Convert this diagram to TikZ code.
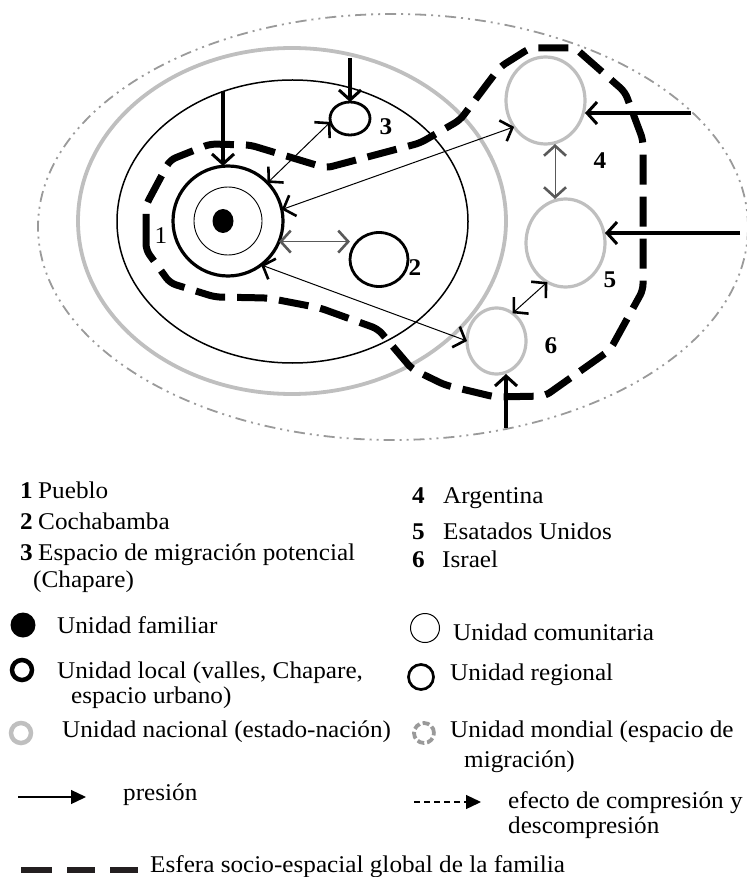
\documentclass[tikz,border=0pt]{standalone}
\usepackage{fontspec}
\setmainfont{Liberation Serif}[FakeStretch=1.05]
\usetikzlibrary{arrows.meta,shapes.geometric}
\definecolor{natgray}{HTML}{BFBFBF}
\definecolor{wgray}{HTML}{9A9A9A}
\definecolor{dk}{HTML}{231F20}
\begin{document}
\begin{tikzpicture}[x=1pt,y=-1pt,
  el/.style={ellipse, draw, inner sep=0pt, outer sep=0pt},
  circ/.style={circle, draw, inner sep=0pt, outer sep=0pt},
  lab/.style={inner sep=0pt, font=\fontsize{24}{26}\selectfont\bfseries},
  txt/.style={anchor=base west, inner sep=0pt, font=\fontsize{24}{28}\selectfont},
  num/.style={anchor=base west, inner sep=0pt, font=\fontsize{24}{28}\selectfont\bfseries},
  press/.style={line width=3.2pt, -{Straight Barb[length=10pt,width=22pt,line width=3pt]}},
  comp/.style={line width=1pt, {Straight Barb[length=10pt,width=22pt,line width=2.6pt]}-{Straight Barb[length=10pt,width=22pt,line width=2.6pt]}},
  sphere/.style={line width=7pt, dash pattern=on 30pt off 12pt, rounded corners=6pt}
]
\useasboundingbox (0,0) rectangle (746,877);

% spaces
\node[el, draw=wgray, line width=1.8pt, dash pattern=on 11pt off 5pt on 2pt off 5pt on 2pt off 5pt,
      minimum width=710pt, minimum height=426pt] (world) at (393,227) {};
\node[el, draw=natgray, line width=3.8pt, minimum width=428pt, minimum height=346pt] (nat) at (292,221) {};
\node[el, line width=1.5pt, minimum width=351pt, minimum height=283pt] (reg) at (292.5,221.5) {};

% family sphere
\draw[sphere] (146,250) -- (146,205) -- (170,160) -- (210,144) -- (250,145) -- (326,168)
  -- (420,143) -- (460,120) -- (500,67) -- (530,48) -- (575,48) -- (625,92) -- (643,140)
  -- (643,290) -- (610,350) -- (545,396) -- (495,397) -- (445,385) -- (412,369) -- (378,329)
  -- (320,308) -- (268,298) -- (215,297) -- (170,283) -- cycle;

% units
\node[circ, line width=3.2pt, minimum size=110pt] (n1) at (228,221) {};
\node[circ, line width=0.9pt, minimum size=68pt] (n1in) at (228,221) {};
\node[ellipse, fill, inner sep=0pt, minimum width=21pt, minimum height=24pt] (fam) at (223,221) {};
\node[el, line width=2.8pt, minimum width=58pt, minimum height=54pt] (n2) at (379,259.5) {};
\node[el, line width=2.8pt, minimum width=40pt, minimum height=33pt] (n3) at (350,118.5) {};
\node[el, draw=natgray, line width=3.2pt, minimum width=79pt, minimum height=87pt] (n4) at (545.5,100.5) {};
\node[el, draw=natgray, line width=3.2pt, minimum width=79pt, minimum height=88pt] (n5) at (565.5,243) {};
\node[el, draw=natgray, line width=3.2pt, minimum width=59pt, minimum height=66pt] (n6) at (496.5,341) {};

% labels
\node[inner sep=0pt, font=\fontsize{24}{26}\selectfont] (l1) at (161,236) {1};
\node[lab] (l2) at (415,268) {2};
\node[lab] (l3) at (386,127) {3};
\node[lab] (l4) at (600,161) {4};
\node[lab] (l5) at (610,280) {5};
\node[lab] (l6) at (551,346) {6};

% pressure arrows
\coordinate (s1) at (223,91);
\coordinate (s3) at (350,58);
\coordinate (s4) at (691,113);
\coordinate (s5) at (740,233);
\coordinate (s6) at (506,428);
\draw[press] (s1) -- (s1 |- n1.north);
\draw[press] (s3) -- (n3.north);
\draw[press] (s4) -- (s4 -| n4.east);
\draw[press] (s5) -- (s5 -| n5.east);
\draw[press] (s6) -- (s6 |- n6.south);

% compression arrows
\draw[comp] (n3.190) -- (n1.44);
\draw[comp, draw=black!65] (n1.-22) -- (n1.-22 -| n2.west);
\draw[comp] (n1.12) -- (n4.220);
\draw[comp] (n1.-53) -- (n6.west);
\draw[comp, draw=black!65] ([xshift=9.5pt]n4.south) -- ([xshift=-10.5pt]n5.north);
\draw[comp] (n5.245) -- (n6.60);

% legend
\node[num] (k1) at (20,498) {1};  \node[txt] (k1t) at (38,498) {Pueblo};
\node[num] (k2) at (20,529) {2};  \node[txt] (k2t) at (38,529) {Cochabamba};
\node[num] (k3) at (20,560) {3};  \node[txt] (k3t) at (38,560) {Espacio de migración potencial};
\node[txt] (k3b) at (33,587) {(Chapare)};
\node[num] (k4) at (412,503) {4}; \node[txt] (k4t) at (443,503) {Argentina};
\node[num] (k5) at (412,539) {5}; \node[txt] (k5t) at (443,539) {Esatados Unidos};
\node[num] (k6) at (412,567) {6}; \node[txt] (k6t) at (442,567) {Israel};

\node[circle, fill, inner sep=0pt, minimum size=25pt] (sy1) at (23,625) {};
\node[txt] (t1) at (57,633) {Unidad familiar};
\node[circ, line width=4.5pt, minimum size=20pt] (sy2) at (22,670) {};
\node[txt] (t2) at (57,678) {Unidad local (valles, Chapare,};
\node[txt] (t2b) at (71,703) {espacio urbano)};
\node[circ, draw=natgray, line width=4.5pt, minimum size=20pt] (sy3) at (21,733) {};
\node[txt] (t3) at (62,737) {Unidad nacional (estado-nación)};

\node[circ, line width=1pt, minimum size=29pt] (sy4) at (425,628) {};
\node[txt] (t4) at (453,640) {Unidad comunitaria};
\node[circ, line width=2.7pt, minimum size=25pt] (sy5) at (421,677) {};
\node[txt] (t5) at (450,680) {Unidad regional};
\node[circ, draw=wgray, line width=3.8pt, dash pattern=on 7pt off 3pt, minimum size=20pt] (sy6) at (424,733) {};
\node[txt] (t6) at (450,737) {Unidad mondial (espacio de};
\node[txt] (t6b) at (464,767) {migración)};

\coordinate (pa) at (18,797);
\coordinate (pb) at (86,797);
\draw[line width=1.3pt, -{Triangle[length=15pt,width=14pt]}] (pa) -- (pb);
\node[txt] (t7) at (123,800) {presión};
\coordinate (ca) at (414,802);
\coordinate (cb) at (481,802);
\draw[line width=1.3pt, dash pattern=on 6pt off 4pt, -{Triangle[length=15pt,width=14pt]}] (ca) -- (cb);
\node[txt] (t8) at (508,808) {efecto de compresión y};
\node[txt] (t8b) at (508,833) {descompresión};

\coordinate (ea) at (21,870);
\coordinate (eb) at (138,870);
\draw[line width=6pt, draw=dk, dash pattern=on 31pt off 15pt on 28pt off 15pt] (ea) -- (eb);
\node[txt] (t9) at (150,872) {Esfera socio-espacial global de la familia};
\end{tikzpicture}
\end{document}
